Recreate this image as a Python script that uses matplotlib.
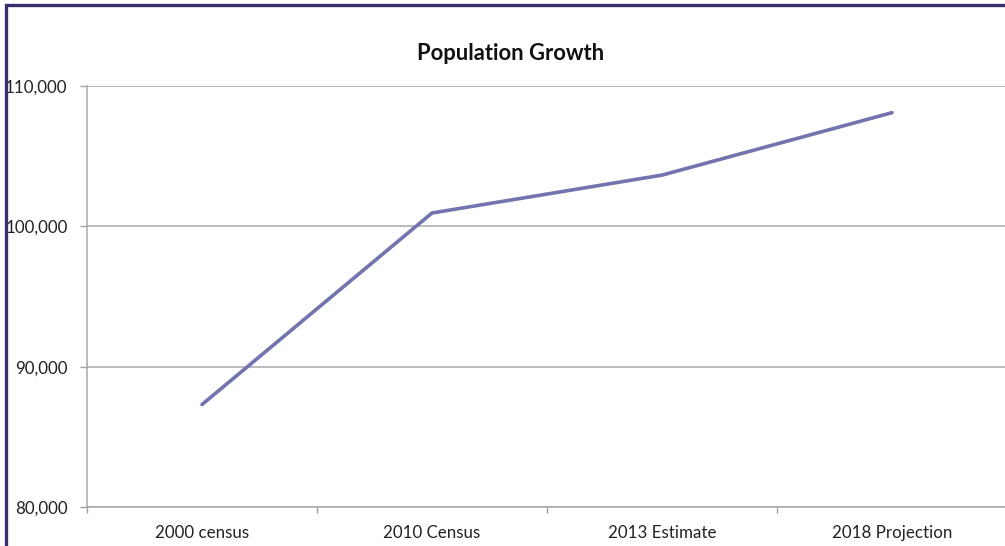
import matplotlib
matplotlib.use("Agg")
import matplotlib.pyplot as plt
from matplotlib.patches import Rectangle
from matplotlib.ticker import FuncFormatter, FixedLocator

categories = ["2000 census", "2010 Census", "2013 Estimate", "2018 Projection"]
population = [87300, 100950, 103650, 108100]
y_ticks = [80000, 90000, 100000, 110000]

plt.rcParams['font.family'] = ['Lato', 'DejaVu Sans']

W, H = 1005, 546
fig = plt.figure(figsize=(W / 100, H / 100), dpi=100)
ax = fig.add_axes([87 / W, 1 - 507 / H, (1007 - 87) / W, (507 - 86) / H])

x = list(range(len(categories)))
ax.plot(x, population, color="#7373ae", linewidth=2.6, solid_capstyle="round",
        solid_joinstyle="round", zorder=3)

ax.set_xlim(-0.5, len(categories) - 0.5)
ax.set_ylim(80000, 110000)
ax.set_yticks(y_ticks)
ax.yaxis.set_major_formatter(FuncFormatter(lambda v, p: f"{int(v):,}"))
ax.set_xticks(x)
ax.set_xticklabels(categories)
ax.xaxis.set_minor_locator(FixedLocator([i + 0.5 for i in range(-1, len(categories))]))
ax.tick_params(axis="x", which="major", length=0, pad=13, labelsize=12.2, colors="#222222")
ax.tick_params(axis="x", which="minor", length=4, width=1, color="#a0a0a0", direction="out")
ax.tick_params(axis="y", length=5, width=1, color="#a0a0a0", pad=9, labelsize=12.2,
               labelcolor="#222222")

ax.grid(axis="y", color="#a8a8a8", linewidth=1.1)
ax.set_axisbelow(True)
for s in ["top", "right"]:
    ax.spines[s].set_visible(False)
for s in ["left", "bottom"]:
    ax.spines[s].set_color("#a8a8a8")
    ax.spines[s].set_linewidth(1.1)

fig.text(511 / W, 1 - 53 / H, "Population Growth", ha="center", va="center",
         fontsize=15.8, fontweight="bold", color="#111111")

border = Rectangle((5.5 / W, -0.05), 1.1, 1 - 5.5 / H + 0.05, transform=fig.transFigure,
                   fill=False, edgecolor="#3a2f6c", linewidth=2.4, zorder=10)
fig.patches.append(border)

fig.savefig("out.png", dpi=100)
